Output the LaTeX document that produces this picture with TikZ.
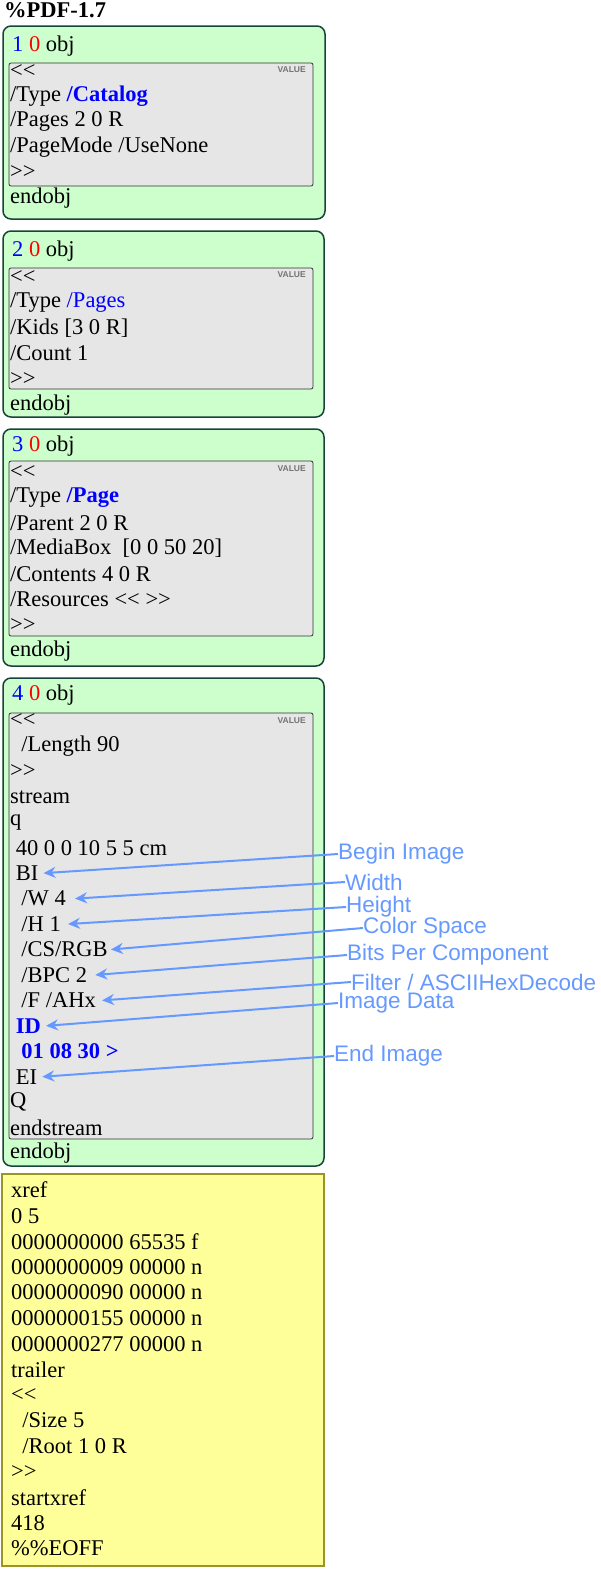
\documentclass[tikz,border=0pt]{standalone}
\usepackage{fontspec}
\setmainfont{Liberation Serif}
\setsansfont{Liberation Sans}
\usetikzlibrary{positioning,arrows.meta}
\definecolor{objgreen}{HTML}{CCFFCC}
\definecolor{objedge}{HTML}{17443A}
\definecolor{dictgray}{HTML}{E6E6E6}
\definecolor{xrefyellow}{HTML}{FFFF99}
\definecolor{xrefedge}{HTML}{9C9425}
\definecolor{notecol}{HTML}{6699FF}
\newcommand{\dopen}{{<}{<}}
\newcommand{\dclose}{{>}{>}}
\tikzset{
  objbox/.style={draw=objedge,fill=objgreen,line width=1.5pt,rounded corners=8pt},
  dictbox/.style={draw=black!80,fill=dictgray,line width=0.8pt,rounded corners=2pt},
  xrefbox/.style={draw=xrefedge,fill=xrefyellow,line width=1.5pt},
  codeline/.style={anchor=west,inner sep=0pt,font=\fontsize{22.5}{22.5}\selectfont},
  valtag/.style={anchor=east,inner sep=0pt,font=\sffamily\bfseries\fontsize{8.5}{8.5}\selectfont,text=black!55},
  note/.style={anchor=west,inner sep=0pt,text=notecol,font=\sffamily\fontsize{22.5}{22.5}\selectfont},
  notearrow/.style={draw=notecol,line width=2pt,-{Stealth[length=12pt,width=11pt]}}
}
\begin{document}
\begin{tikzpicture}[x=1pt,y=-1pt]
  \useasboundingbox (0,0) rectangle (600,1572);

  \node (header) [codeline,font=\bfseries\fontsize{22.5}{22.5}\selectfont] at (4,10) {\%PDF-1.7};

  % object boxes
  \draw[objbox] (3,26) rectangle (325,219);
  \draw[dictbox] (9,63) rectangle (313,186);
  \draw[objbox] (3,231) rectangle (324,417);
  \draw[dictbox] (9,268) rectangle (313,389);
  \draw[objbox] (3,429) rectangle (324,666);
  \draw[dictbox] (9,461) rectangle (313,636);
  \draw[objbox] (3,678) rectangle (324,1166);
  \draw[dictbox] (9,713) rectangle (313,1139);
  \draw[xrefbox] (2,1174) rectangle (324,1566);

  \foreach \y in {70,275,469,721}
    \node [valtag] at (306,\y) {VALUE};

  % object 1
  \node (o1) [codeline] at (12,46) {\textcolor{blue}{1} \textcolor{red}{0} obj};
  \foreach \t [count=\i] in {{\dopen},{/Type \textcolor{blue}{\textbf{/Catalog}}},{/Pages 2 0 R},{/PageMode /UseNone},{\dclose},{endobj}}
    \node (o1_\i) [codeline] at (10,{46+25.3*\i}) {\t};

  % object 2
  \node (o2) [codeline] at (12,251) {\textcolor{blue}{2} \textcolor{red}{0} obj};
  \foreach \t [count=\i] in {{\dopen},{/Type \textcolor{blue}{/Pages}},{/Kids [3 0 R]},{/Count 1},{\dclose},{endobj}}
    \node (o2_\i) [codeline] at (10,{251+25.6*\i}) {\t};

  % object 3
  \node (o3) [codeline] at (12,446) {\textcolor{blue}{3} \textcolor{red}{0} obj};
  \foreach \t [count=\i] in {{\dopen},{/Type \textcolor{blue}{\textbf{/Page}}},{/Parent 2 0 R},{/MediaBox\ \ [0 0 50 20]},{/Contents 4 0 R},{/Resources \dopen\ \dclose},{\dclose},{endobj}}
    \node (o3_\i) [codeline] at (10,{446+25.6*\i}) {\t};

  % object 4
  \node (o4) [codeline] at (12,695) {\textcolor{blue}{4} \textcolor{red}{0} obj};
  \foreach \t [count=\i] in {{\dopen},{\ \ /Length 90},{\dclose},{stream},{q},{\ 40 0 0 10 5 5 cm},{\ BI},{\ \ /W 4},{\ \ /H 1},{\ \ /CS/RGB},{\ \ /BPC 2},{\ \ /F /AHx},{\ \textcolor{blue}{\textbf{ID}}},{\ \ \textcolor{blue}{\textbf{01 08 30 >}}},{\ EI},{Q},{endstream},{endobj}}
    \node (o4_\i) [codeline] at (10,{695+25.45*\i}) {\t};

  % xref table
  \foreach \t [count=\i] in {{xref},{0 5},{0000000000 65535 f},{0000000009 00000 n},{0000000090 00000 n},{0000000155 00000 n},{0000000277 00000 n},{trailer},{\dopen},{\ \ /Size 5},{\ \ /Root 1 0 R},{\dclose},{startxref},{418},{\%\%EOFF}}
    \node (x_\i) [codeline] at (11,{1164.5+25.6*\i}) {\t};

  % inline image notes
  \node (nBI) [note] at (338,854) {Begin Image};
  \node (nW) [note] at (345,882) {Width};
  \node (nH) [note] at (346,907) {Height};
  \node (nCS) [note] at (363,928) {Color Space};
  \node (nBPC) [note] at (347,955) {Bits Per Component};
  \node (nF) [note] at (351,982) {Filter / ASCIIHexDecode};
  \node (nID) [note] at (338,1003) {Image Data};
  \node (nEI) [note] at (334,1056) {End Image};

  \draw[notearrow] (nBI.west) -- ([xshift=5pt]o4_7.east);
  \draw[notearrow] (nW.west) -- ([xshift=9pt]o4_8.east);
  \draw[notearrow] (nH.west) -- ([xshift=7pt]o4_9.east);
  \draw[notearrow] (nCS.west) -- ([xshift=3pt]o4_10.east);
  \draw[notearrow] (nBPC.west) -- ([xshift=8pt]o4_11.east);
  \draw[notearrow] (nF.west) -- ([xshift=6pt]o4_12.east);
  \draw[notearrow] (nID.west) -- ([xshift=5pt]o4_13.east);
  \draw[notearrow] (nEI.west) -- ([xshift=5pt]o4_15.east);
\end{tikzpicture}
\end{document}
